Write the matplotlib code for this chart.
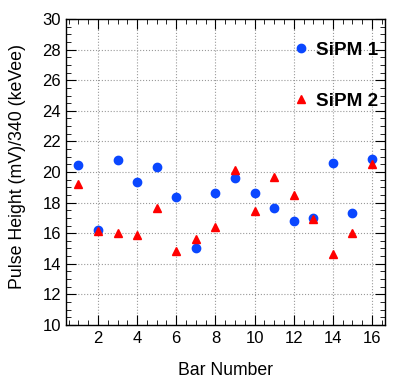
import matplotlib
matplotlib.use('Agg')
import matplotlib.pyplot as plt
from matplotlib.ticker import MultipleLocator

# Pulse height per bar for the two SiPMs
bars = [1, 2, 3, 4, 5, 6, 7, 8, 9, 10, 11, 12, 13, 14, 15, 16]
sipm1 = [20.48, 16.24, 20.76, 19.35, 20.3, 18.39, 15.04, 18.63,
         19.59, 18.63, 17.67, 16.8, 16.97, 20.59, 17.33, 20.85]
sipm2 = [19.24, 16.15, 16.02, 15.89, 17.67, 14.83, 15.6, 16.41,
         20.15, 17.46, 19.67, 18.52, 16.9, 14.67, 16.04, 20.52]

plt.rcParams['font.family'] = ['Liberation Sans', 'DejaVu Sans']

fig = plt.figure(figsize=(4.06, 3.88), dpi=100)
ax = fig.add_axes([0.1626, 0.1624, 0.7856, 0.7886])

ax.plot(bars, sipm1, 'o', color='#0a47ff', markersize=6.0, label='SiPM 1', zorder=3)
ax.plot(bars, sipm2, '^', color='#ff0000', markersize=6.0, label='SiPM 2', zorder=3)

ax.set_xlim(0.37, 16.66)
ax.set_ylim(10, 30)
ax.xaxis.set_major_locator(MultipleLocator(2))
ax.xaxis.set_minor_locator(MultipleLocator(0.5))
ax.yaxis.set_major_locator(MultipleLocator(2))
ax.yaxis.set_minor_locator(MultipleLocator(0.5))
ax.tick_params(which='both', direction='in', top=True, right=True, labelsize=12)
ax.tick_params(axis='x', pad=4)
ax.tick_params(which='major', length=7)
ax.tick_params(which='minor', length=3.5)
ax.grid(True, which='major', linestyle=':', color='#999999', linewidth=0.8)
for s in ax.spines.values():
    s.set_linewidth(1.0)

ax.set_xlabel('Bar Number', fontsize=12.7, labelpad=12)
ax.set_ylabel('Pulse Height (mV)/340 (keVee)', fontsize=12.8, va='center')
ax.yaxis.set_label_coords(-0.152, 0.518)

ax.legend(loc='center', bbox_to_anchor=(0.843, 0.815), frameon=False,
          prop={'weight': 'bold', 'size': 13.6}, labelspacing=1.8,
          handletextpad=0.3, handlelength=1.0, numpoints=1, markerscale=1.0)

fig.savefig('out.png', dpi=100)
